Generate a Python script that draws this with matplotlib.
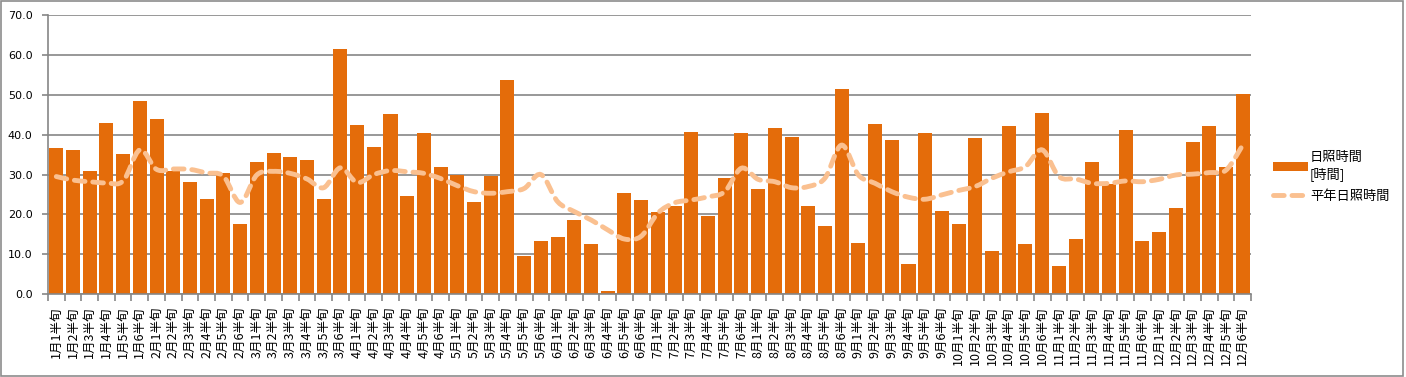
import matplotlib
matplotlib.use("Agg")
import matplotlib.pyplot as plt
from matplotlib.path import Path
from matplotlib.patches import PathPatch, Patch, Rectangle
from matplotlib.lines import Line2D
import numpy as np

plt.rcParams['font.family'] = ['Noto Sans CJK JP', 'DejaVu Sans']

months = [f"{m}月" for m in range(1, 13)]
pentads = [f"{p}半旬" for p in range(1, 7)]
labels = [m + p for m in months for p in pentads]

# 日照時間 [時間]
sunshine = [
    36.7, 36.2, 30.9, 42.9, 35.2, 48.5,
    44.0, 30.9, 28.1, 23.9, 30.4, 17.6,
    33.2, 35.4, 34.4, 33.7, 23.9, 61.5,
    42.5, 36.9, 45.2, 24.6, 40.4, 31.9,
    29.9, 23.1, 29.6, 53.8, 9.5, 13.3,
    14.3, 18.6, 12.6, 0.8, 25.4, 23.6,
    20.6, 22.1, 40.7, 19.6, 29.1, 40.4,
    26.4, 41.7, 39.4, 22.1, 17.1, 51.5,
    12.8, 42.7, 38.7, 7.5, 40.4, 20.8,
    17.6, 39.2, 10.8, 42.2, 12.6, 45.5,
    7.0, 13.8, 33.2, 27.6, 41.2, 13.3,
    15.6, 21.6, 38.2, 42.2, 31.9, 50.2,
]

# 平年日照時間
normal = [
    29.5, 28.6, 28.2, 27.9, 28.4, 36.2,
    31.3, 31.4, 31.3, 30.4, 29.6, 23.0,
    29.9, 30.8, 30.3, 28.9, 26.7, 31.7,
    28.0, 30.0, 31.0, 30.7, 30.3, 29.0,
    27.2, 25.7, 25.3, 25.7, 26.5, 30.0,
    23.2, 20.7, 18.6, 16.1, 13.8, 14.5,
    20.3, 22.9, 23.6, 24.4, 25.7, 31.6,
    28.8, 28.2, 26.7, 27.0, 29.1, 37.4,
    29.9, 27.8, 25.7, 24.3, 23.8, 24.9,
    26.0, 27.0, 29.1, 30.7, 32.0, 36.2,
    29.5, 28.9, 27.8, 27.8, 28.4, 28.2,
    28.8, 29.9, 30.1, 30.5, 31.1, 37.4,
]

bar_color = "#E46C0A"
line_color = "#FAC090"
grid_color = "#868686"

fig = plt.figure(figsize=(14.06, 3.77), dpi=100)
ax = fig.add_axes([0.0341, 0.2202, 0.8557, 0.7392])

x = np.arange(len(labels))
ax.bar(x, sunshine, width=0.84, color=bar_color, zorder=2)

# smoothed line like Excel (Catmull-Rom -> cubic Bezier)
pts = np.column_stack([x, normal]).astype(float)
verts = [tuple(pts[0])]
codes = [Path.MOVETO]
for i in range(len(pts) - 1):
    p0 = pts[i - 1] if i > 0 else pts[i]
    p1 = pts[i]
    p2 = pts[i + 1]
    p3 = pts[i + 2] if i + 2 < len(pts) else pts[i + 1]
    c1 = p1 + (p2 - p0) / 6.0
    c2 = p2 - (p3 - p1) / 6.0
    verts += [tuple(c1), tuple(c2), tuple(p2)]
    codes += [Path.CURVE4] * 3
patch = PathPatch(Path(verts, codes), fill=False, edgecolor=line_color,
                  linewidth=3.5, linestyle=(0, (2.2, 1.6)), capstyle='round',
                  zorder=3)
ax.add_patch(patch)

ax.set_xlim(-0.5, len(labels) - 0.5)
ax.set_ylim(0, 70)
ax.set_yticks(np.arange(0, 71, 10))
ax.set_yticklabels([f"{v:.1f}" for v in np.arange(0, 71, 10)], fontsize=8,
                   family=['DejaVu Sans'])
ax.yaxis.grid(True, color=grid_color, linewidth=1.2, zorder=0)
ax.set_axisbelow(True)

ax.set_xticks(x)
ax.set_xticklabels(labels, rotation=90, fontsize=9)
ax.set_xticks(np.arange(-0.5, len(labels), 1), minor=True)
ax.tick_params(axis='x', which='major', length=0, pad=9)
ax.tick_params(axis='x', which='minor', length=5, color=grid_color, width=1.2)
ax.tick_params(axis='y', length=4, color=grid_color, width=1.2, pad=7)

for s in ['top', 'right']:
    ax.spines[s].set_visible(False)
for s in ['left', 'bottom']:
    ax.spines[s].set_color(grid_color)
    ax.spines[s].set_linewidth(1.2)

handles = [
    Patch(facecolor=bar_color, edgecolor='none'),
    Line2D([0], [0], color=line_color, linewidth=3.5,
           linestyle=(0, (2.2, 1.6)), dash_capstyle='round'),
]
fig.legend(handles, ["日照時間\n[時間]", "平年日照時間"], loc='center left',
           bbox_to_anchor=(0.9054, 0.53), frameon=False, fontsize=9.5,
           borderpad=0, borderaxespad=0,
           handlelength=2.65, handleheight=0.6, labelspacing=0.7,
           handletextpad=0.15)

fig.add_artist(Rectangle((0.001, 0.002), 0.997, 0.995, transform=fig.transFigure,
                         fill=False, edgecolor="#8c8c8c", linewidth=1.2))

fig.savefig("out.png", dpi=100)
